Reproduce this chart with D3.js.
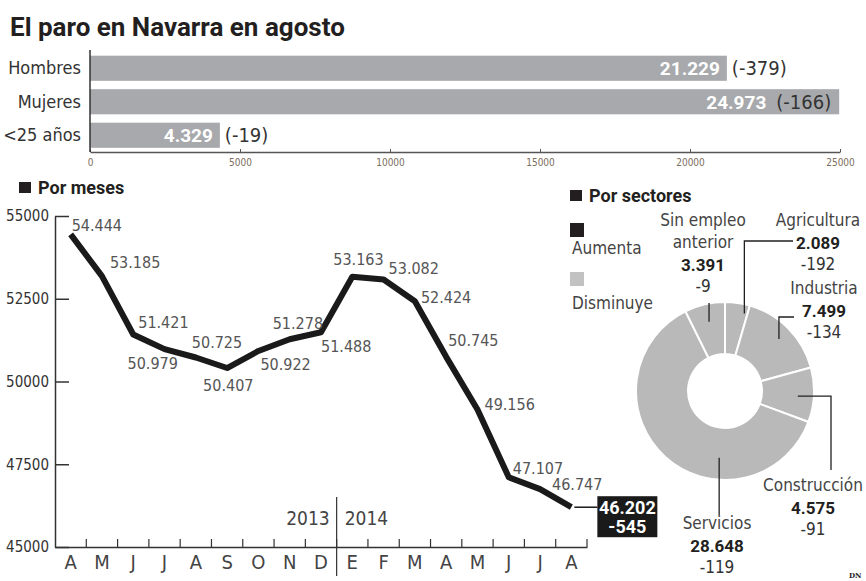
<!DOCTYPE html>
<html>
<head>
<meta charset="utf-8">
<script src="https://cdn.jsdelivr.net/npm/d3@7"></script>
<style>
  body { margin: 0; background: #fff; }
  svg { display: block; }
</style>
</head>
<body>
<div id="chart"></div>
<script>
// data
const barCategories = ["Hombres", "Mujeres", "<25 años"];
const barValues = [21229, 24973, 4329];
const barChanges = [-379, -166, -19];
const barTicks = [0, 5000, 10000, 15000, 20000, 25000];

const months = ["A", "M", "J", "J", "A", "S", "O", "N", "D", "E", "F", "M", "A", "M", "J", "J", "A"];
const monthYears = [2013, 2013, 2013, 2013, 2013, 2013, 2013, 2013, 2013, 2014, 2014, 2014, 2014, 2014, 2014, 2014, 2014];
const paro = [54444, 53185, 51421, 50979, 50725, 50407, 50922, 51278, 51488, 53163, 53082, 52424, 50745, 49156, 47107, 46747, 46202];
const lastChange = -545;
const yTicks = [45000, 47500, 50000, 52500, 55000];

const sectors = ["Agricultura", "Industria", "Construcción", "Servicios", "Sin empleo anterior"];
const sectorValues = [2089, 7499, 4575, 28648, 3391];
const sectorChanges = [-192, -134, -91, -119, -9];

// label placement for the line chart (offset from each point)
const labelDx = [1, 8, 5, -37, -4, -24, 2, -17, 0, -19, 5, 6, 2, 7, 4, 12];
const labelDy = [-3, -8, -6, 20, -10, 23, 19, -10, 20, -12, -5, 2, -11, 1, -3, 1];

const W = 866, H = 581;
const COND = "'Liberation Sans Narrow','DejaVu Sans Condensed','Roboto Condensed',Roboto,sans-serif";
const BOLD = "Roboto,'Liberation Sans',sans-serif";

const es = d3.formatLocale({decimal: ",", thousands: ".", grouping: [3], currency: ["", "€"]});
const fmt = es.format(",d");
const fmtChange = d => (d > 0 ? "+" : "") + d;

const svg = d3.select("#chart").append("svg").attr("width", W).attr("height", H);

// title
svg.append("text")
   .attr("x", 10).attr("y", 36)
   .style("font-family", BOLD).style("font-weight", "bold").style("font-size", "26px")
   .style("fill", "#231f20")
   .text("El paro en Navarra en agosto");

// ---------- top bars ----------
const bx = d3.scaleLinear().domain([0, 25000]).range([90, 840]);
const by = d3.scaleBand().domain(barCategories).range([51.5, 152]).paddingInner(0.25).paddingOuter(0.125);

svg.append("g").selectAll("rect")
   .data(barValues)
   .enter()
   .append("rect")
   .attr("x", bx(0))
   .attr("y", (d, i) => by(barCategories[i]))
   .attr("width", d => bx(d) - bx(0))
   .attr("height", by.bandwidth())
   .attr("fill", "#a7a9ac");

// change labels go after the bar, or inside it when there is no room
const changeText = svg.append("g").selectAll("text")
   .data(barChanges)
   .enter()
   .append("text")
   .attr("x", (d, i) => bx(barValues[i]) + 5)
   .attr("y", (d, i) => by(barCategories[i]) + by.bandwidth() / 2 + 7)
   .style("font-family", COND).style("font-size", "20px")
   .style("fill", "#333")
   .text(d => "(" + d + ")");

const valueRight = [];
changeText.each(function (d, i) {
  const w = this.getComputedTextLength();
  const end = bx(barValues[i]);
  if (end + 5 + w > bx.range()[1]) {
    d3.select(this).attr("x", end - 8).attr("text-anchor", "end");
    valueRight[i] = end - 8 - w - 10;
  } else {
    valueRight[i] = end - 7;
  }
});

svg.append("g").selectAll("text")
   .data(barValues)
   .enter()
   .append("text")
   .attr("x", (d, i) => valueRight[i])
   .attr("y", (d, i) => by(barCategories[i]) + by.bandwidth() / 2 + 7)
   .attr("text-anchor", "end")
   .style("font-family", BOLD).style("font-weight", "bold").style("font-size", "19px")
   .style("fill", "#fff")
   .text(d => fmt(d));

svg.append("g").selectAll("text")
   .data(barCategories)
   .enter()
   .append("text")
   .attr("x", 81)
   .attr("y", d => by(d) + by.bandwidth() / 2 + 6)
   .attr("text-anchor", "end")
   .style("font-family", COND).style("font-size", "18px")
   .style("fill", "#333")
   .text(d => d);

const barAxis = svg.append("g")
   .attr("transform", "translate(0,152)")
   .call(d3.axisBottom(bx).tickValues(barTicks).tickSize(-3).tickSizeOuter(0).tickPadding(7).tickFormat(d => d));
barAxis.select(".domain").attr("stroke", "#555").attr("stroke-width", 1.5);
barAxis.selectAll(".tick line").attr("stroke", "#555");
barAxis.selectAll(".tick text").style("font-family", COND).style("font-size", "10px").style("fill", "#7a6e5e");

svg.append("line")
   .attr("x1", bx(0)).attr("x2", bx(0))
   .attr("y1", 50).attr("y2", 152)
   .attr("stroke", "#333").attr("stroke-width", 1.5);

// ---------- section headers ----------
function header(x, y, label) {
  svg.append("rect").attr("x", x).attr("y", y - 12).attr("width", 12).attr("height", 11).attr("fill", "#231f20");
  svg.append("text")
     .attr("x", x + 19).attr("y", y)
     .style("font-family", BOLD).style("font-weight", "bold").style("font-size", "18px")
     .style("fill", "#231f20")
     .text(label);
}
header(19, 194, "Por meses");
header(570, 202, "Por sectores");

// ---------- line chart ----------
const keys = months.map((m, i) => monthYears[i] + "-" + i);
const x = d3.scaleBand().domain(keys).range([55, 587]);
const y = d3.scaleLinear().domain([45000, 55000]).range([547, 216]);
const cx = i => x(keys[i]) + x.bandwidth() / 2;

const yAxis = svg.append("g")
   .attr("transform", "translate(55,0)")
   .call(d3.axisLeft(y).tickValues(yTicks).tickSize(-14).tickSizeOuter(0).tickPadding(6).tickFormat(d => d));
yAxis.select(".domain").attr("stroke", "#333").attr("stroke-width", 1.5);
yAxis.selectAll(".tick line").attr("stroke", "#333").attr("stroke-width", 1.5);
yAxis.selectAll(".tick text").style("font-family", COND).style("font-size", "15px").style("fill", "#333");

const xAxis = svg.append("g")
   .attr("transform", "translate(0,547)")
   .call(d3.axisBottom(x).tickSize(0).tickPadding(8).tickFormat((d, i) => months[i]));
xAxis.select(".domain").attr("stroke", "#333").attr("stroke-width", 1.5);
xAxis.selectAll(".tick text").style("font-family", COND).style("font-size", "20px").style("fill", "#444");

// ticks between the months
svg.append("g").selectAll("line")
   .data(keys)
   .enter()
   .append("line")
   .attr("x1", d => x(d) + x.step()).attr("x2", d => x(d) + x.step())
   .attr("y1", 547).attr("y2", 539)
   .attr("stroke", "#333").attr("stroke-width", 1.2);

// year divider
const firstOf2014 = keys[monthYears.indexOf(2014)];
svg.append("line")
   .attr("x1", x(firstOf2014)).attr("x2", x(firstOf2014))
   .attr("y1", 497).attr("y2", 576)
   .attr("stroke", "#333").attr("stroke-width", 1.2);
svg.append("text")
   .attr("x", x(firstOf2014) - 7).attr("y", 525)
   .attr("text-anchor", "end")
   .style("font-family", COND).style("font-size", "19px").style("fill", "#444")
   .text("2013");
svg.append("text")
   .attr("x", x(firstOf2014) + 8).attr("y", 525)
   .style("font-family", COND).style("font-size", "19px").style("fill", "#444")
   .text("2014");

const line = d3.line()
   .x((d, i) => cx(i))
   .y(d => y(d));

svg.append("path")
   .datum(paro)
   .attr("d", line)
   .attr("fill", "none")
   .attr("stroke", "#1a1a1a")
   .attr("stroke-width", 6)
   .attr("stroke-linejoin", "round");

svg.append("g").selectAll("text")
   .data(paro.slice(0, -1))
   .enter()
   .append("text")
   .attr("x", (d, i) => cx(i) + labelDx[i])
   .attr("y", (d, i) => y(d) + labelDy[i])
   .style("font-family", COND).style("font-size", "16px").style("fill", "#555")
   .text(d => fmt(d));

// last value box
const li = paro.length - 1;
const boxX = cx(li) + 26, boxY = y(paro[li]) - 11;
svg.append("line")
   .attr("x1", cx(li) + 3).attr("x2", boxX)
   .attr("y1", y(paro[li])).attr("y2", y(paro[li]))
   .attr("stroke", "#1a1a1a").attr("stroke-width", 1.5);
svg.append("rect")
   .attr("x", boxX).attr("y", boxY).attr("width", 60).attr("height", 41)
   .attr("fill", "#1a1a1a");
svg.append("text")
   .attr("x", boxX + 30).attr("y", boxY + 18)
   .attr("text-anchor", "middle")
   .style("font-family", BOLD).style("font-weight", "bold").style("font-size", "18px").style("fill", "#fff")
   .text(fmt(paro[li]));
svg.append("text")
   .attr("x", boxX + 30).attr("y", boxY + 37)
   .attr("text-anchor", "middle")
   .style("font-family", BOLD).style("font-weight", "bold").style("font-size", "18px").style("fill", "#fff")
   .text(fmtChange(lastChange));

// ---------- legend ----------
svg.append("rect").attr("x", 570).attr("y", 223).attr("width", 14).attr("height", 14).attr("fill", "#231f20");
svg.append("text").attr("x", 572).attr("y", 254)
   .style("font-family", COND).style("font-size", "17px").style("fill", "#444").text("Aumenta");
svg.append("rect").attr("x", 570).attr("y", 272).attr("width", 14).attr("height", 14).attr("fill", "#c2c2c2");
svg.append("text").attr("x", 572).attr("y", 309)
   .style("font-family", COND).style("font-size", "17px").style("fill", "#444").text("Disminuye");

// ---------- donut ----------
const pcx = 725, pcy = 391;
const pie = d3.pie().sort(null).value(d => d);
const arc = d3.arc().innerRadius(37).outerRadius(89);
const arcs = pie(sectorValues);

const donut = svg.append("g").attr("transform", "translate(" + pcx + "," + pcy + ")");
donut.selectAll("path")
   .data(arcs)
   .enter()
   .append("path")
   .attr("d", arc)
   .attr("fill", (d, i) => sectorChanges[i] > 0 ? "#231f20" : "#b9b9b9")
   .attr("stroke", "#fff")
   .attr("stroke-width", 2);

// leader lines: start on the ring (angle in degrees, radius), then elbows relative to centre
const leaderAngle = [14, 46, 94, 185, 347];
const leaderR = [80, 75, 73, 67, 71];
const leaderSteps = [
  [["v", -150], ["h", 68]],
  [["v", -74], ["h", 69]],
  [["h", 106], ["v", 79]],
  [["v", 124]],
  [["v", -88]]
];
arcs.forEach((a, i) => {
  const ang = leaderAngle[i] * Math.PI / 180;
  let px = Math.sin(ang) * leaderR[i], py = -Math.cos(ang) * leaderR[i];
  const pts = [[px, py]];
  leaderSteps[i].forEach(s => {
    if (s[0] === "v") py = s[1]; else px = s[1];
    pts.push([px, py]);
  });
  donut.append("path")
     .attr("d", d3.line()(pts))
     .attr("fill", "none")
     .attr("stroke", "#231f20")
     .attr("stroke-width", 1.3);
});

// sector labels (anchor relative to centre, first baseline)
const labelPos = [[93, -165], [99, -97], [88, 100], [-8, 138], [-22, -165]];
const nameLines = ["Agricultura", "Industria", "Construcción", "Servicios", "Sin empleo|anterior"];
arcs.forEach((a, i) => {
  const g = donut.append("g").attr("transform", "translate(" + labelPos[i][0] + "," + labelPos[i][1] + ")");
  const names = nameLines[i].split("|");
  names.forEach((n, k) => {
    g.append("text").attr("y", k * 22).attr("text-anchor", "middle")
     .style("font-family", COND).style("font-size", "17px").style("fill", "#444").text(n);
  });
  const off = names.length * 22;
  g.append("text").attr("y", off + 1).attr("text-anchor", "middle")
   .style("font-family", BOLD).style("font-weight", "bold").style("font-size", "17px").style("fill", "#231f20")
   .text(fmt(sectorValues[i]));
  g.append("text").attr("y", off + 22).attr("text-anchor", "middle")
   .style("font-family", COND).style("font-size", "17px").style("fill", "#333")
   .text(fmtChange(sectorChanges[i]));
});

svg.append("text")
   .attr("x", 849).attr("y", 578)
   .style("font-family", "'DejaVu Serif',serif").style("font-weight", "bold").style("font-size", "7px").style("fill", "#222")
   .text("DN");
</script>
</body>
</html>
